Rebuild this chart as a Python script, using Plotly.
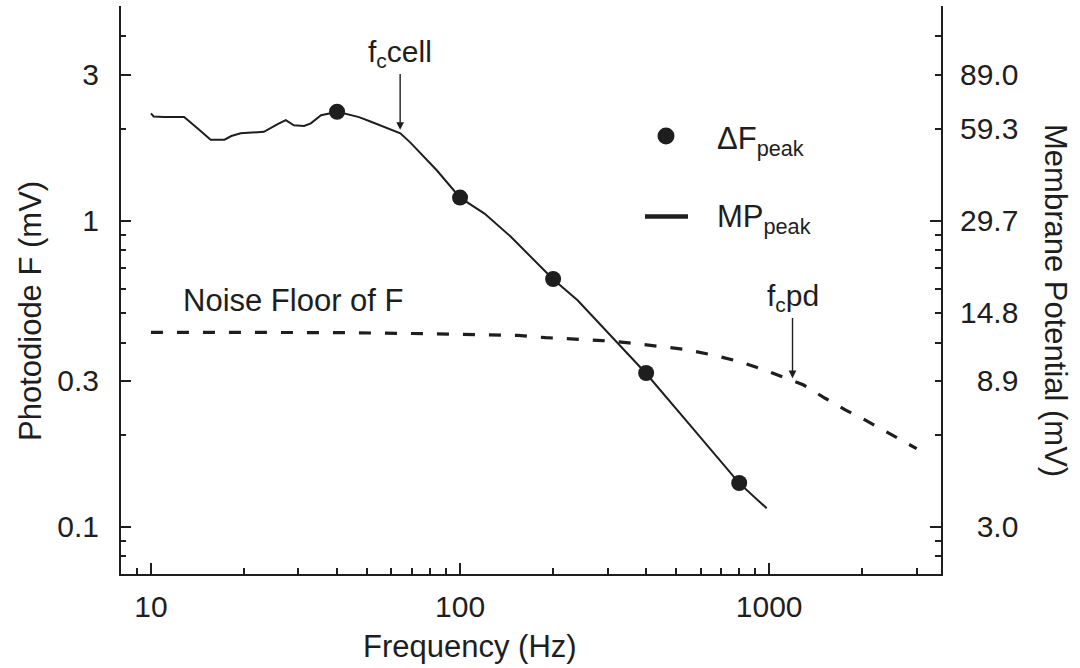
import numpy as np
import plotly.graph_objects as go

# ---------------- data ----------------
# Membrane potential peak (solid line), right axis, mV
freq_mp = [10.0, 10.2, 11.0, 12.8, 14.2, 15.6, 17.3, 18.2, 19.5, 23.2, 25.7, 27.3,
           29.0, 31.3, 32.9, 35.5, 40.2, 47.1, 51.3, 64.1, 69.1, 84.2, 100, 120,
           146, 178, 200, 240, 300, 350, 400, 560, 800, 982]
mp_peak_mv = [66.5, 65.0, 64.7, 64.7, 59.3, 54.6, 54.6, 56.1, 57.3, 57.9, 61.4, 63.2,
              60.8, 60.5, 61.7, 65.6, 67.3, 64.7, 62.6, 57.3, 53.4, 43.3, 35.3, 31.3,
              26.3, 21.5, 19.1, 16.3, 12.8, 10.8, 9.4, 6.3, 4.12, 3.41]

# Photodiode fluorescence peaks (dots), left axis, mV
freq_pts = [40, 100, 200, 400, 800]
df_peak = [2.27, 1.19, 0.645, 0.318, 0.139]

# Noise floor of F (dashed), left axis, mV
freq_noise = [10, 20, 40, 70, 100, 154, 189, 234, 289, 352, 430, 531, 651, 798,
              929, 1125, 1288, 1518, 1763, 2049, 2383, 2785, 3000]
noise_floor = [0.432, 0.432, 0.431, 0.428, 0.425, 0.422, 0.415, 0.411, 0.406, 0.399,
               0.389, 0.380, 0.365, 0.347, 0.330, 0.306, 0.291, 0.263, 0.241, 0.223,
               0.205, 0.187, 0.180]

# cut-off frequencies marked by arrows (Hz)
fc_cell_hz = 64
fc_pd_hz = 1190

# axes / ticks
x_range_hz = [8.0, 3597]
y_range_mv = [0.0701, 5.03]
mv_per_unit = 29.67            # right-axis mV per left-axis mV
x_major = [10, 100, 1000]
x_major_text = ["10", "100", "1000"]
x_minor = [9, 20, 30, 40, 50, 60, 70, 80, 90, 200, 300, 400, 500, 600, 700, 800, 900, 2000, 3000]
y_major = [0.1, 0.3, 1, 3]
y_major_text = ["0.1", "0.3", "1", "3"]
y_minor = [0.08, 0.09, 0.2, 0.4, 0.5, 0.6, 0.7, 0.8, 0.9, 2, 4, 5]
right_label_at = [3, 2, 1, 0.5, 0.3, 0.1]
right_ticktext = ["89.0", "59.3", "29.7", "14.8", "\u20078.9", "\u20073.0"]
right_short = [5, 4, 0.9, 0.8, 0.7, 0.6, 0.4, 0.2, 0.09, 0.08]
right_long = [1, 0.1]

# ---------------- layout helpers ----------------
W, H = 1080, 668
ML, MR, MT, MB = 121, 139, 6, 94
PW, PH = W - ML - MR, H - MT - MB
INK = "#1e1e1e"
FONT = "Liberation Sans, Arial, Helvetica, sans-serif"


def px_x(px):
    return (px - ML) / PW


def px_y(py):
    return (H - MB - py) / PH


def data_to_py(v):
    """pixel row of a left-axis value (for placing labels above arrow tips)"""
    ly0, ly1 = np.log10(y_range_mv)
    return MT + (ly1 - np.log10(v)) / (ly1 - ly0) * PH


ly = np.log10(y_range_mv)
ry = ly + np.log10(mv_per_unit)

fig = go.Figure()

fig.add_trace(go.Scatter(
    x=freq_noise, y=noise_floor, mode="lines", yaxis="y",
    line=dict(color=INK, width=3.2, dash="12px,14px"), hoverinfo="skip"))

fig.add_trace(go.Scatter(
    x=freq_mp, y=mp_peak_mv, mode="lines", yaxis="y2",
    line=dict(color=INK, width=2), hoverinfo="skip"))

fig.add_trace(go.Scatter(
    x=freq_pts, y=df_peak, mode="markers", yaxis="y",
    marker=dict(color=INK, size=16, line=dict(width=0)), hoverinfo="skip"))

# carrier trace for the long right-axis ticks
fig.add_trace(go.Scatter(x=[None], y=[None], yaxis="y3", mode="lines",
                         showlegend=False, hoverinfo="skip"))

axis_common = dict(type="log", showgrid=False, zeroline=False, showline=True,
                   linecolor=INK, linewidth=2, ticks="inside", tickcolor=INK,
                   tickwidth=1.5, tickfont=dict(family=FONT, size=30, color=INK))

fig.update_layout(
    width=W, height=H,
    margin=dict(l=ML, r=MR, t=MT, b=MB),
    paper_bgcolor="white", plot_bgcolor="white",
    showlegend=False,
    font=dict(family=FONT, size=30, color=INK),
    xaxis=dict(**axis_common, range=list(np.log10(x_range_hz)),
               tickmode="array", tickvals=x_major, ticktext=x_major_text,
               ticklen=11, ticklabelstandoff=5,
               minor=dict(tickmode="array", tickvals=x_minor, ticks="inside",
                          ticklen=6, tickwidth=1.5, tickcolor=INK, showgrid=False)),
    yaxis=dict(**axis_common, range=list(ly),
               tickmode="array", tickvals=y_major, ticktext=y_major_text,
               ticklen=10, ticklabelstandoff=14,
               minor=dict(tickmode="array", tickvals=y_minor, ticks="inside",
                          ticklen=5, tickwidth=1.5, tickcolor=INK, showgrid=False)),
    yaxis2=dict(**axis_common, range=list(ry), overlaying="y", side="right",
                tickmode="array",
                tickvals=[v * mv_per_unit for v in right_label_at],
                ticktext=right_ticktext, ticklen=6, ticklabelstandoff=11,
                minor=dict(tickmode="array",
                           tickvals=[v * mv_per_unit for v in right_short],
                           ticks="inside", ticklen=6, tickwidth=1.5,
                           tickcolor=INK, showgrid=False)),
    yaxis3=dict(type="log", range=list(ry), overlaying="y", side="right",
                showgrid=False, zeroline=False, showline=False,
                tickmode="array", tickvals=[v * mv_per_unit for v in right_long],
                ticks="inside", ticklen=11, tickwidth=1.5, tickcolor=INK,
                showticklabels=False),
)

annotations = [
    # axis titles
    dict(text="Frequency (Hz)", xref="paper", yref="paper", x=px_x(470), y=px_y(646),
         xanchor="center", yanchor="middle", showarrow=False, font=dict(size=31)),
    dict(text="Photodiode F (mV)", xref="paper", yref="paper", x=px_x(30), y=px_y(311),
         xanchor="center", yanchor="middle", textangle=-90, showarrow=False,
         font=dict(size=31)),
    dict(text="Membrane Potential (mV)", xref="paper", yref="paper", x=px_x(1056),
         y=px_y(300), xanchor="center", yanchor="middle", textangle=90,
         showarrow=False, font=dict(size=31)),
    # labels
    dict(text="Noise Floor of F", xref="paper", yref="paper", x=px_x(181), y=px_y(301),
         xanchor="left", yanchor="middle", showarrow=False, font=dict(size=31)),
    # legend texts
    dict(text="\u0394F<sub>peak</sub>", xref="paper", yref="paper", x=px_x(715),
         y=px_y(141), xanchor="left", yanchor="middle", showarrow=False,
         font=dict(size=31)),
    dict(text="MP<sub>peak</sub>", xref="paper", yref="paper", x=px_x(715),
         y=px_y(219), xanchor="left", yanchor="middle", showarrow=False,
         font=dict(size=31)),
]

# cut-off labels with arrows pointing at the curves
tip_cell = 10 ** np.interp(np.log10(fc_cell_hz), np.log10(freq_mp),
                           np.log10(np.array(mp_peak_mv) / mv_per_unit)) * 1.025
tip_pd = 10 ** np.interp(np.log10(fc_pd_hz), np.log10(freq_noise),
                         np.log10(noise_floor)) * 1.02
for label, fx, fy, text_py in [("f<sub>c</sub>cell", fc_cell_hz, tip_cell, 54),
                               ("f<sub>c</sub>pd", fc_pd_hz, tip_pd, 298)]:
    annotations.append(dict(text=label, x=np.log10(fx), y=np.log10(fy),
                            xref="x", yref="y", showarrow=True, ax=0,
                            ay=text_py - data_to_py(fy), arrowhead=2,
                            arrowsize=1.1, arrowwidth=1.4, arrowcolor=INK,
                            standoff=0, startstandoff=0, font=dict(size=30)))
fig.update_layout(annotations=annotations)

# legend glyphs
r = 8.5
fig.add_shape(type="circle", xref="paper", yref="paper",
              x0=px_x(666 - r), x1=px_x(666 + r), y0=px_y(136 + r), y1=px_y(136 - r),
              fillcolor=INK, line=dict(width=0))
fig.add_shape(type="line", xref="paper", yref="paper",
              x0=px_x(645), x1=px_x(688), y0=px_y(216.5), y1=px_y(216.5),
              line=dict(color=INK, width=4.5))

fig.write_html("out.html")
